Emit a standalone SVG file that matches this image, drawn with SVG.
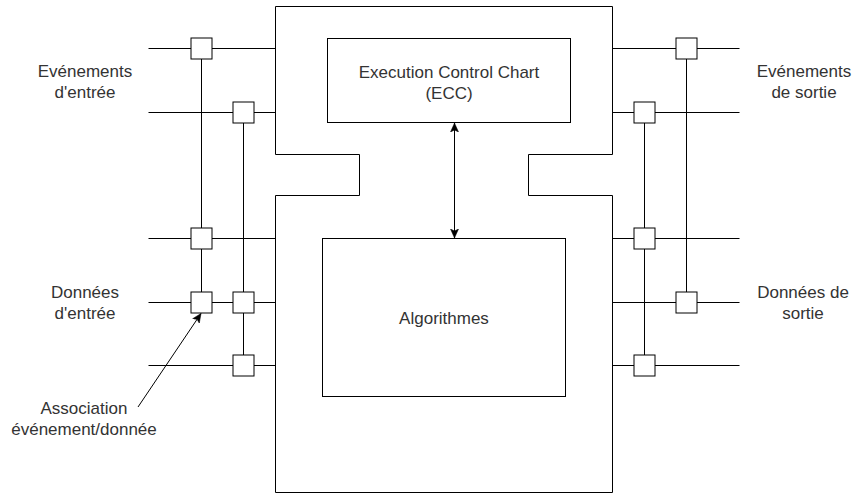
<svg xmlns="http://www.w3.org/2000/svg" width="852" height="494" viewBox="0 0 852 494">
<style>
.s{fill:none;stroke:#000;stroke-width:1}
.w{fill:#fff;stroke:#000;stroke-width:1}
.t{font-family:"Liberation Sans",Arial,sans-serif;font-size:17px;fill:#333;text-anchor:middle}
</style>
<defs>
<marker id="ah" markerUnits="userSpaceOnUse" markerWidth="10" markerHeight="10" viewBox="0 0 10 10" refX="9" refY="5" orient="auto">
<path d="M0,1 L9,5 L0,9 L2,5 z" fill="#000" stroke="#000" stroke-width="0.5"/>
</marker>
<marker id="ahs" markerUnits="userSpaceOnUse" markerWidth="10" markerHeight="10" viewBox="0 0 10 10" refX="1" refY="5" orient="auto">
<path d="M10,1 L1,5 L10,9 L8,5 z" fill="#000" stroke="#000" stroke-width="0.5"/>
</marker>
</defs>
<rect width="852" height="494" fill="#fff"/>
<g id="fb">
<path class="w" d="M275.5,6.5H612.5V154.5H528.5V195.5H612.5V492.5H275.5V195.5H359.5V154.5H275.5Z"/>
</g>
<g id="ecc">
<rect class="w" x="327.5" y="38.5" width="243" height="84"/>
<text class="t" x="449" y="77.5">Execution Control Chart</text>
<text class="t" x="449" y="98.5">(ECC)</text>
</g>
<g id="algo">
<rect class="w" x="322.5" y="238.5" width="243" height="158"/>
<text class="t" x="444" y="323.5">Algorithmes</text>
</g>
<g id="connectors">
<path class="s" d="M148.5,48.5H275.5M148.5,112.5H275.5M148.5,238.5H275.5M148.5,302.5H275.5M148.5,365.5H275.5"/>
<path class="s" d="M612.5,48.5H739.5M612.5,112.5H739.5M612.5,238.5H739.5M612.5,302.5H739.5M612.5,365.5H739.5"/>
<path class="s" d="M201.5,59V292M243.5,123V355M644.5,123V355M686.5,59V292"/>
<path class="s" d="M454.5,123V238" marker-start="url(#ahs)" marker-end="url(#ah)"/>
<path class="s" d="M138,407L201,313.5" marker-end="url(#ah)"/>
</g>
<g id="assoc-boxes">
<rect class="w" x="191" y="38" width="21" height="21"/>
<rect class="w" x="233" y="102" width="21" height="21"/>
<rect class="w" x="191" y="228" width="21" height="21"/>
<rect class="w" x="191" y="292" width="21" height="21"/>
<rect class="w" x="233" y="292" width="21" height="21"/>
<rect class="w" x="233" y="355" width="21" height="21"/>
<rect class="w" x="676" y="38" width="21" height="21"/>
<rect class="w" x="634" y="102" width="21" height="21"/>
<rect class="w" x="634" y="228" width="21" height="21"/>
<rect class="w" x="676" y="292" width="21" height="21"/>
<rect class="w" x="634" y="355" width="21" height="21"/>
</g>
<g id="labels">
<text class="t" x="85" y="76.5">Evénements</text>
<text class="t" x="85" y="97.5">d'entrée</text>
<text class="t" x="804" y="76.5">Evénements</text>
<text class="t" x="804" y="97.5">de sortie</text>
<text class="t" x="85" y="297.5">Données</text>
<text class="t" x="85" y="318.5">d'entrée</text>
<text class="t" x="803" y="297.5">Données de</text>
<text class="t" x="803" y="318.5">sortie</text>
<text class="t" x="84" y="414">Association</text>
<text class="t" x="84" y="435">événement/donnée</text>
</g>
</svg>
